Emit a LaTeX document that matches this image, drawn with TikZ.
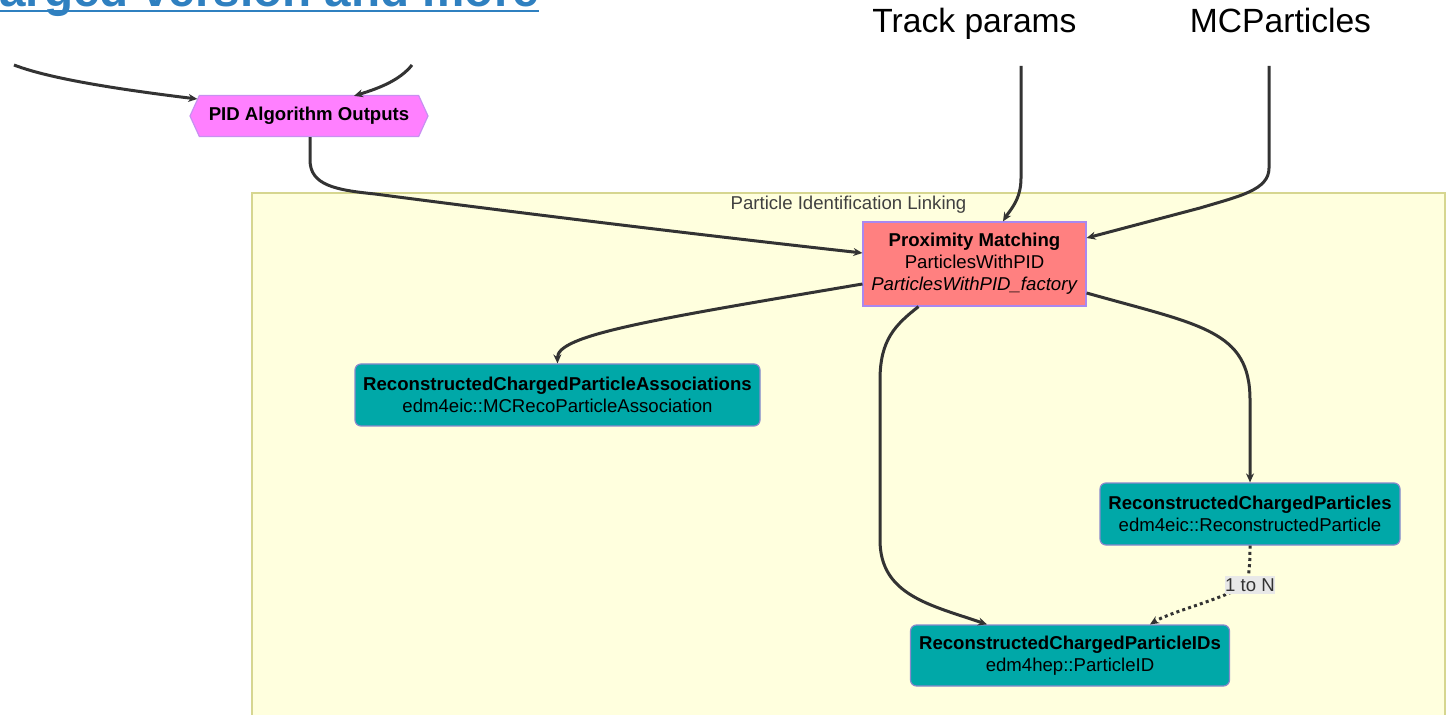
\documentclass[tikz,border=0pt]{standalone}
\usepackage{fontspec}
\setmainfont{Liberation Sans}
\usepackage{tikz}
\usetikzlibrary{positioning, calc, arrows.meta, shapes.symbols}
\tikzset{>={Stealth[length=4.5pt,width=4pt]}}
\definecolor{linkblue}{HTML}{2F80C0}
\definecolor{edgegray}{HTML}{333333}
\definecolor{pidpink}{HTML}{FF80FF}
\definecolor{pidborder}{HTML}{C890F0}
\definecolor{algored}{HTML}{FF8080}
\definecolor{algoborder}{HTML}{A888F0}
\definecolor{collteal}{HTML}{00A8A8}
\definecolor{collborder}{HTML}{8888CC}
\definecolor{clusterfill}{HTML}{FFFFDE}
\definecolor{clusterborder}{HTML}{D6D690}
\newcommand{\nodefont}{\fontsize{9.3}{11}\selectfont}

\begin{document}
\begin{tikzpicture}
    [x=0.5pt, y=-0.5pt,
     my pid/.style={signal, signal to=west and east, signal pointer angle=131,
       draw=pidborder, fill=pidpink, line width=0.6pt, font=\nodefont\bfseries,
       minimum width=119pt, minimum height=20.5pt, inner sep=0pt},
     my algo/.style={draw=algoborder, fill=algored, line width=0.6pt, font=\nodefont,
       align=center, minimum width=111.5pt, minimum height=42pt, inner sep=0pt},
     my collection/.style={draw=collborder, fill=collteal, line width=0.6pt,
       rounded corners=3pt, font=\nodefont, align=center, minimum height=31pt,
       inner sep=0pt},
     my input/.style={font=\fontsize{16.8}{20}\selectfont, anchor=base},
     my edge/.style={->, draw=edgegray, line width=1.5pt},
     my link/.style={my edge, dash pattern=on 1.5pt off 1.6pt},
     my label/.style={fill=black!9, text=edgegray, font=\nodefont, inner xsep=0pt,
       inner ysep=1.2pt}]
    \useasboundingbox (0,0) rectangle (1449,715);

    % link text cut at the top
    \node[anchor=base west, text=linkblue, font=\fontsize{23.8}{28}\selectfont\bfseries,
      inner sep=0pt] (enlarged) at (-1,7) {arged version and more};
    \draw[linkblue, line width=1.4pt] ($(enlarged.base west)+(0,4)$) -- ($(enlarged.base east)+(0,4)$);

    % inputs
    \node[my input] (trackparams) at (974.5,33) {Track params};
    \node[my input] (mcparticles) at (1280.5,33) {MCParticles};
    \coordinate (leftin) at (14,65);
    \coordinate (rightin) at (412,65);
    \coordinate (trackin) at (1021,66);
    \coordinate (mcin) at (1269,66);

    % cluster
    \draw[fill=clusterfill, draw=clusterborder, line width=0.8pt] (252,193) rectangle (1445,725);
    \node[text=black!75, font=\nodefont] (linking) at (848.5,205) {Particle Identification Linking};

    % nodes
    \node[my pid] (pid) at (309,116) {PID Algorithm Outputs};
    \node[my algo] (prox) at (974.5,264)
      {\textbf{Proximity Matching}\\ParticlesWithPID\\\textit{ParticlesWithPID\_factory}};
    \node[my collection, minimum width=202.5pt] (assoc) at (557.5,395)
      {\textbf{ReconstructedChargedParticleAssociations}\\edm4eic::MCRecoParticleAssociation};
    \node[my collection, minimum width=150pt] (charged) at (1250,514)
      {\textbf{ReconstructedChargedParticles}\\edm4eic::ReconstructedParticle};
    \node[my collection, minimum width=159.5pt, minimum height=30.5pt] (pids) at (1070,655.5)
      {\textbf{ReconstructedChargedParticleIDs}\\edm4hep::ParticleID};

    % edges
    \draw[my edge] (leftin) .. controls (40,75) and (90,86) .. ($(pid.west)+(8,-17)$);
    \draw[my edge] (rightin) .. controls (400,80) and (380,88) .. ($(pid.north)+(45,1)$);
    \draw[my edge] ($(pid.south)+(1,0)$) -- (310,160) .. controls (310,185) and (335,190) .. (375,194)
      .. controls (520,213) and (700,235) .. ($(prox.west)+(0,-11)$);
    \draw[my edge] (trackin) -- (1021,178) .. controls (1021,200) and (1010,210) .. ($(prox.north)+(28.5,0)$);
    \draw[my edge] (mcin) -- (1269,168) .. controls (1269,190) and (1240,196) .. (1200,208)
      -- ($(prox.east)+(0,-26)$);
    \draw[my edge] ($(prox.west)+(0,20)$) .. controls (650,320) and (557,335) .. (assoc.north);
    \draw[my edge] ($(prox.south)+(-56,0)$) .. controls (895,325) and (880,340) .. (880,380)
      -- (880,540) .. controls (880,595) and (930,605) .. ($(pids.north)+(-83,0)$);
    \draw[my edge] ($(prox.east)+(0,29)$) .. controls (1200,325) and (1250,330) .. (1250,400)
      -- (charged.north);
    \draw[my link] (charged.south) .. controls (1250,565) and (1249,577) .. (1246,585)
      node[my label, xshift=2pt] (oneton) {1 to N}
      .. controls (1220,600) and (1170,612) .. ($(pids.north)+(80,0)$);
\end{tikzpicture}
\end{document}
